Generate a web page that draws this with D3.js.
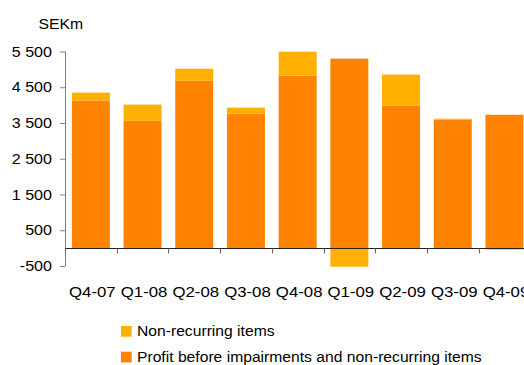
<!DOCTYPE html>
<html>
<head>
<meta charset="utf-8">
<script src="https://cdn.jsdelivr.net/npm/d3@7"></script>
<style>
  html, body { margin: 0; padding: 0; background: #fff; }
  svg { display: block; font-family: "Liberation Sans", Arial, sans-serif; }
</style>
</head>
<body>
<svg id="chart" width="524" height="365"></svg>
<script>
// Quarterly profit (SEKm), split into underlying profit and non-recurring items
const quarters = ["Q4-07", "Q1-08", "Q2-08", "Q3-08", "Q4-08", "Q1-09", "Q2-09", "Q3-09", "Q4-09"];
const profitBeforeItems = [4130, 3565, 4685, 3760, 4825, 5300, 3985, 3595, 3730];
const nonRecurring = [220, 450, 335, 170, 670, -520, 870, 25, -40];
const yTicks = [-500, 500, 1500, 2500, 3500, 4500, 5500];
const seriesNames = ["Non-recurring items", "Profit before impairments and non-recurring items"];
const colors = { profit: "#FF8200", nonrec: "#FFB000" };

const svg = d3.select("#chart");
const plotLeft = 65, plotTop = 51.5, plotBottom = 266;
const FONT = "Liberation Sans, Arial, sans-serif";

// Place a horizontally widened text label at (x, y)
function label(parent, x, y, txt, size, stretch, anchor) {
  return parent.append("text")
    .attr("transform", `translate(${x},${y}) scale(${stretch},1)`)
    .attr("text-anchor", anchor || "start")
    .attr("font-family", FONT)
    .attr("fill", "#000")
    .style("font-size", size + "px")
    .text(txt);
}

const x = d3.scaleBand()
  .domain(quarters)
  .range([plotLeft, plotLeft + 51.7 * quarters.length])
  .paddingInner(0.265)
  .paddingOuter(0.1325);

const y = d3.scaleLinear().domain([-500, 5500]).range([plotBottom, plotTop]);

// Bars: underlying profit from zero, non-recurring stacked above (or below when negative)
const g = svg.append("g");
quarters.forEach((q, i) => {
  const p = profitBeforeItems[i];
  const n = nonRecurring[i];
  g.append("rect")
    .attr("x", x(q)).attr("width", x.bandwidth())
    .attr("y", y(p)).attr("height", y(0) - y(p))
    .attr("fill", colors.profit);
  if (n >= 0) {
    g.append("rect")
      .attr("x", x(q)).attr("width", x.bandwidth())
      .attr("y", y(p + n)).attr("height", y(p) - y(p + n))
      .attr("fill", colors.nonrec);
  } else {
    g.append("rect")
      .attr("x", x(q)).attr("width", x.bandwidth())
      .attr("y", y(0)).attr("height", y(n) - y(0))
      .attr("fill", colors.nonrec);
  }
});

// Y axis: line and ticks from d3, labels drawn widened
const fmt = d => d3.format(",")(d).replace(/,/g, "\u00a0").replace("\u2212", "-");
const yAxis = svg.append("g")
  .attr("transform", `translate(${plotLeft},0)`)
  .call(d3.axisLeft(y).tickValues(yTicks).tickSize(5).tickFormat(""));
yAxis.select(".domain").attr("stroke", "#808080").attr("d", `M0.5,${plotTop}V${plotBottom}`);
yAxis.selectAll(".tick line").attr("stroke", "#808080");
const yLabels = svg.append("g");
yTicks.forEach(t => label(yLabels, 52, y(t) + 5, fmt(t), 14, 1.15, "end"));

// X axis on the zero line, ticks between categories
const xAxisG = svg.append("g").attr("transform", `translate(0,${Math.round(y(0)) + 0.5})`);
xAxisG.append("line")
  .attr("x1", plotLeft).attr("x2", 524)
  .attr("stroke", "#222").attr("stroke-width", 1);
const step = x.step();
d3.range(quarters.length + 1).forEach(i => {
  const xx = Math.round(plotLeft + i * step) + 0.5;
  xAxisG.append("line")
    .attr("x1", xx).attr("x2", xx).attr("y1", 0).attr("y2", 5)
    .attr("stroke", "#666");
});

// Category labels
const xLabels = svg.append("g");
quarters.forEach(q => label(xLabels, x(q) + x.bandwidth() / 2 + 1.5, 296.5, q, 15, 1.12, "middle"));

// Unit label
label(svg, 38.5, 29, "SEKm", 15, 1.05);

// Legend
const legend = svg.append("g");
const legendRows = [
  { name: seriesNames[0], color: colors.nonrec, y: 326 },
  { name: seriesNames[1], color: colors.profit, y: 351.7 }
];
legendRows.forEach(r => {
  legend.append("rect").attr("x", 121).attr("y", r.y).attr("width", 10.7).attr("height", 10.7).attr("fill", r.color);
  label(legend, 137, r.y + 10.3, r.name, 15, 1.045);
});
</script>
</body>
</html>
